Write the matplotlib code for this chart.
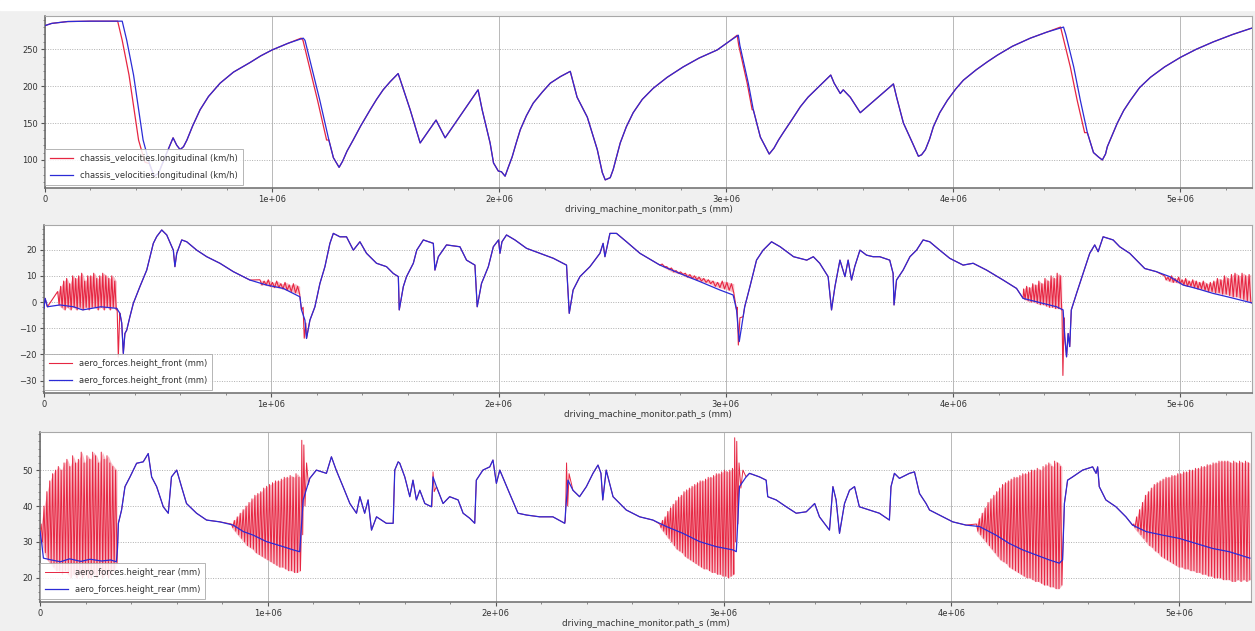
import numpy as np
import matplotlib
matplotlib.use('Agg')
import matplotlib.pyplot as plt
from matplotlib.ticker import MultipleLocator, FixedLocator, FixedFormatter
from matplotlib.patches import Rectangle

MM = 1e6  # path positions below are in 1e6 mm

# --- chassis_velocities.longitudinal (km/h) ---
vel_x = [0.0, 0.03, 0.1, 0.2, 0.34, 0.36, 0.39, 0.432, 0.46, 0.48, 0.50, 0.53, 0.564, 0.58, 0.595,
         0.61, 0.625, 0.65, 0.683, 0.72, 0.771, 0.83, 0.903, 0.95, 1.0, 1.07, 1.137, 1.145, 1.21,
         1.25, 1.27, 1.295, 1.31, 1.33, 1.357, 1.39, 1.432, 1.46, 1.489, 1.52, 1.555, 1.565, 1.608,
         1.652, 1.722, 1.762, 1.907, 1.925, 1.96, 1.975, 1.996, 2.01, 2.026, 2.04, 2.057, 2.075,
         2.093, 2.12, 2.15, 2.19, 2.225, 2.27, 2.313, 2.343, 2.388, 2.432, 2.454, 2.467, 2.489,
         2.502, 2.533, 2.56, 2.59, 2.63, 2.678, 2.74, 2.81, 2.88, 2.96, 3.01, 3.053, 3.06, 3.097,
         3.119, 3.15, 3.189, 3.21, 3.23, 3.251, 3.29, 3.326, 3.36, 3.40, 3.43, 3.46, 3.475, 3.502,
         3.515, 3.546, 3.59, 3.736, 3.75, 3.78, 3.82, 3.846, 3.86, 3.877, 3.895, 3.912, 3.94, 3.974,
         4.01, 4.044, 4.1, 4.15, 4.194, 4.26, 4.339, 4.41, 4.485, 4.495, 4.53, 4.559, 4.59, 4.617,
         4.639, 4.656, 4.67, 4.678, 4.70, 4.722, 4.75, 4.78, 4.82, 4.868, 4.93, 5.0, 5.07, 5.145,
         5.23, 5.308, 5.32]
vel_y = [282, 285, 287.5, 288, 288, 262, 215, 127, 95, 78, 82, 105, 130, 120, 114,
         118, 127, 146, 168, 186, 204, 219, 232, 241, 249, 258, 265, 262, 181,
         127, 103, 90, 98, 112, 127, 146, 168, 182, 195, 206, 217, 208, 168,
         123, 154, 130, 195, 168, 123, 96, 85, 84, 78, 90, 104, 123,
         141, 160, 177, 192, 204, 213, 220, 185, 158, 114, 83, 73, 76,
         87, 123, 145, 164, 182, 197, 212, 226, 238, 249, 260, 269, 255, 204,
         168, 131, 108, 116, 127, 137, 155, 172, 185, 197, 206, 215, 204, 190,
         195, 185, 164, 203, 185, 150, 123, 105, 107, 114, 128, 145, 164, 181,
         196, 208, 222, 233, 242, 254, 265, 273, 280, 270, 226, 181, 137, 110,
         104, 100, 108, 118, 134, 150, 167, 181, 198, 212, 226, 239, 250, 260,
         270, 278, 279]

# the red run brakes a little earlier at each corner entry
vel_red_brake = [
    ([0.32, 0.34, 0.37, 0.412, 0.44], [288, 262, 215, 127, 97]),
    ([1.128, 1.136, 1.2, 1.24], [265, 262, 181, 127]),
    ([3.048, 3.055, 3.092, 3.114], [269, 255, 204, 168]),
    ([4.472, 4.48, 4.515, 4.545, 4.578], [280, 270, 226, 181, 137]),
]

# --- aero_forces.height_front (mm) ---
front_x = [0.0, 0.005, 0.015, 0.07, 0.13, 0.17, 0.25, 0.32, 0.334, 0.342, 0.349, 0.356, 0.364, 0.378,
           0.393, 0.422, 0.452, 0.481, 0.496, 0.518, 0.54, 0.569, 0.576, 0.584, 0.606, 0.628, 0.672,
           0.716, 0.774, 0.833, 0.906, 0.979, 1.053, 1.126, 1.133, 1.148, 1.155, 1.17, 1.192, 1.214,
           1.236, 1.258, 1.273, 1.302, 1.331, 1.361, 1.39, 1.419, 1.463, 1.507, 1.537, 1.559, 1.563,
           1.581, 1.595, 1.625, 1.64, 1.669, 1.713, 1.72, 1.735, 1.771, 1.83, 1.859, 1.896, 1.906,
           1.925, 1.955, 1.977, 2.0, 2.006, 2.015, 2.035, 2.072, 2.123, 2.182, 2.241, 2.299, 2.311,
           2.328, 2.358, 2.402, 2.446, 2.46, 2.468, 2.49, 2.519, 2.563, 2.622, 2.71, 2.798, 2.886,
           2.974, 3.032, 3.047, 3.059, 3.076, 3.083, 3.106, 3.135, 3.164, 3.201, 3.239, 3.298, 3.356,
           3.385, 3.413, 3.45, 3.465, 3.48, 3.502, 3.524, 3.538, 3.553, 3.567, 3.59, 3.619, 3.648,
           3.677, 3.721, 3.736, 3.74, 3.751, 3.78, 3.81, 3.839, 3.868, 3.897, 3.941, 3.985, 4.044,
           4.088, 4.147, 4.22, 4.279, 4.308, 4.367, 4.455, 4.484, 4.491, 4.499, 4.506, 4.513, 4.52,
           4.543, 4.572, 4.601, 4.623, 4.638, 4.66, 4.704, 4.733, 4.777, 4.843, 4.894, 4.953, 5.012,
           5.07, 5.144, 5.217, 5.313]
front_y = [-2.4, 1.4, -1.8, -1.1, -1.8, -3.0, -1.8, -2.4, -4.3, -8.0, -19.6, -12.0, -10.7, -5.6,
           -0.5, 5.9, 12.2, 22.4, 25.0, 27.5, 25.6, 19.8, 13.5, 18.6, 23.7, 23.0, 19.8,
           17.3, 14.8, 11.6, 8.4, 6.5, 5.2, 2.0, -3.0, -6.9, -13.9, -6.9, -1.8, 7.1,
           13.5, 22.4, 26.2, 24.9, 24.9, 19.8, 23.0, 18.6, 14.8, 13.5, 10.9, 9.7, -3.0,
           5.9, 9.7, 14.8, 19.8, 23.7, 22.4, 12.2, 17.3, 21.8, 21.1, 16.0, 14.1, -1.8,
           7.1, 13.5, 21.1, 23.7, 18.6, 23.0, 25.6, 23.7, 20.5, 18.6, 16.7, 14.1, -4.3,
           4.6, 9.7, 13.5, 18.6, 22.4, 17.3, 26.2, 26.2, 23.0, 18.6, 14.1, 10.9, 7.8,
           4.6, 2.7, -3.0, -15.1, -5.6, -1.8, 5.9, 16.0, 19.8, 23.0, 21.1, 17.3, 16.0,
           17.3, 14.8, 9.7, -3.0, 5.9, 16.0, 9.7, 16.0, 8.4, 13.5, 19.8, 17.9, 17.3,
           17.3, 16.0, 10.9, -1.1, 8.4, 12.2, 17.3, 19.8, 23.7, 23.0, 19.8, 16.7, 14.1,
           14.8, 12.2, 8.4, 5.2, 1.4, 0.1, -1.8, -3.0, -13.2, -20.9, -12.0, -17.0, -3.0,
           3.3, 10.9, 18.6, 21.8, 19.2, 24.9, 23.7, 21.1, 18.6, 12.8, 11.6, 9.7, 6.5,
           5.2, 3.3, 1.8, -0.3]

# oscillating stretches of the red trace: (start, end, peaks, troughs)
front_red_osc = [
    (0.06, 0.318,
     [4, 6, 8, 9, 7, 10, 9, 10, 11, 8, 10, 10, 11, 9, 10, 11, 10, 9, 10, 8],
     [-1, -2, -3, -2, -3, -2, -3, -2, -3, -2, -3, -2, -2, -3, -2, -3, -2, -3, -2, -3]),
    (0.95, 1.125,
     [8.5, 8, 8.5, 7.5, 8, 7, 7.5, 6.5, 7, 6],
     [6.5, 6.5, 6, 5.5, 5.5, 5, 4.5, 4, 3.5, 3]),
    (2.72, 3.035,
     [14.5, 13.5, 13, 12, 11.5, 11, 10.5, 10, 9.5, 9, 8.5, 8, 7.5, 8, 7.5, 7],
     [13.5, 12.5, 11.5, 11, 10.5, 9.5, 9, 8.5, 8, 7.5, 7, 6, 5.5, 5, 4.5, 3.5]),
    (4.31, 4.478,
     [5, 6, 5.5, 7, 6.5, 8, 7, 9, 8, 10, 9, 11, 10],
     [1, 0.5, 0, 0, -0.5, -1, -1, -1.5, -2, -2, -2.5, -2.5, -3]),
    (4.93, 5.31,
     [10, 9.5, 10, 9, 9.5, 8.5, 9, 8, 8.5, 8, 7.5, 8, 7, 7.5, 8, 9, 8.5, 10, 9, 10.5, 11, 10, 11, 10, 10.5],
     [8.5, 8, 7.5, 7.5, 7, 6.5, 6, 6, 5.5, 5, 5, 4.5, 4, 4, 3.5, 3.5, 3, 3, 2.5, 2, 2, 1.5, 1, 0.5, 0]),
]
front_red_spikes = [
    ([0.322, 0.327, 0.333], [-3, -21, -5]),
    ([1.14, 1.145, 1.152], [-2, -13.8, -8]),
    ([3.05, 3.055, 3.062], [-2, -16.4, -6]),
    ([4.479, 4.483, 4.488], [-3, -28, -6]),
]

# --- aero_forces.height_rear (mm) ---
rear_x = [0.0, 0.007, 0.015, 0.05, 0.09, 0.13, 0.18, 0.22, 0.27, 0.31, 0.335, 0.34, 0.344, 0.358,
          0.373, 0.395, 0.424, 0.453, 0.475, 0.49, 0.512, 0.541, 0.563, 0.577, 0.6, 0.621, 0.643,
          0.687, 0.731, 0.789, 0.848, 0.892, 0.936, 0.994, 1.067, 1.111, 1.14, 1.155, 1.184, 1.213,
          1.257, 1.279, 1.3, 1.33, 1.36, 1.389, 1.404, 1.425, 1.44, 1.455, 1.477, 1.52, 1.55, 1.557,
          1.572, 1.579, 1.601, 1.623, 1.637, 1.652, 1.667, 1.689, 1.718, 1.725, 1.74, 1.769, 1.798,
          1.835, 1.857, 1.886, 1.908, 1.915, 1.944, 1.974, 1.988, 2.003, 2.018, 2.061, 2.098, 2.135,
          2.193, 2.251, 2.303, 2.317, 2.339, 2.368, 2.398, 2.427, 2.449, 2.462, 2.47, 2.485, 2.515,
          2.573, 2.632, 2.69, 2.749, 2.822, 2.895, 2.968, 3.041, 3.056, 3.07, 3.099, 3.114, 3.158,
          3.187, 3.194, 3.231, 3.275, 3.319, 3.363, 3.4, 3.421, 3.465, 3.48, 3.494, 3.509, 3.531,
          3.553, 3.575, 3.596, 3.64, 3.684, 3.728, 3.735, 3.75, 3.772, 3.816, 3.838, 3.86, 3.889,
          3.904, 3.947, 4.006, 4.064, 4.123, 4.196, 4.254, 4.313, 4.371, 4.43, 4.474, 4.488, 4.496,
          4.51, 4.532, 4.576, 4.62, 4.635, 4.642, 4.649, 4.678, 4.722, 4.766, 4.795, 4.854, 4.927,
          5.0, 5.073, 5.146, 5.219, 5.31]
rear_y = [33, 30, 25.5, 25, 24.5, 25.3, 24.6, 25.2, 24.7, 25, 24.5, 28, 35.2, 38.9,
          45.4, 48.1, 51.9, 52.3, 54.6, 48.1, 45.4, 39.8, 38, 48.1, 50, 45.4, 40.7,
          38, 36.1, 35.6, 34.7, 32.9, 31.9, 30.1, 28.7, 27.8, 27.3, 41.7, 47.7, 50,
          49.1, 53.7, 50, 45.4, 40.7, 38, 42.6, 38, 41.7, 33.3, 37, 35.2, 35.2, 50,
          52.3, 51.9, 48.1, 42.6, 47.2, 41.7, 44.4, 40.7, 39.8, 48.1, 45.4, 40.7, 42.6,
          41.7, 38, 36.6, 35.2, 47.2, 50, 50.9, 52.8, 46.3, 50, 43.5, 38, 37.5,
          37, 37, 35.2, 47.2, 44.4, 42.6, 45.4, 49.1, 51.4, 49.1, 41.7, 50, 42.6,
          38.9, 37, 36.1, 34.3, 32.4, 30.1, 28.7, 27.8, 27.3, 45.4, 48.1, 49.1, 48.1,
          47.2, 42.6, 41.7, 39.8, 38, 38.4, 40.7, 37, 33.3, 45.4, 41.7, 32.4, 40.7,
          44.4, 45.4, 39.8, 38.9, 38, 36.1, 45.4, 49.1, 47.7, 49.1, 49.5, 43.5, 40.7,
          38.9, 37.5, 35.6, 34.7, 34.3, 31.9, 29.6, 27.8, 26.4, 25, 24.1, 25, 40.7,
          47.2, 48.1, 50, 50.9, 49.1, 50.9, 45.4, 41.7, 39.8, 37, 34.7, 32.9, 31.9,
          31, 29.6, 28.2, 27.3, 25.5]

rear_red_osc = [
    (0.005, 0.338,
     [35, 40, 44, 47, 49, 50, 51, 50, 52, 53, 51, 54, 52, 53, 55, 52, 54, 53, 55, 54, 52, 55, 53, 54, 52, 51, 50],
     [30, 27, 25, 24, 23, 22, 22, 21, 22, 21, 20, 21, 20, 21, 20, 21, 20, 20, 21, 20, 21, 20, 21, 20, 21, 22, 24]),
    (0.84, 1.143,
     [35, 36, 37, 38, 39, 40, 41, 42, 43, 43.5, 44, 45, 45.5, 46, 46.5, 47, 47, 47.5, 48, 48, 48.5, 48, 49, 48],
     [34, 33, 32, 31, 30, 29, 28.5, 28, 27, 26.5, 26, 25.5, 25, 24.5, 24, 23.5, 23, 23, 22.5, 22, 22, 21.5, 21.5, 22]),
    (2.72, 3.045,
     [35, 36, 37, 38.5, 39.5, 40.5, 41.5, 42.5, 43, 44, 44.5, 45, 45.5, 46, 46.5, 47, 47, 47.5, 48, 48,
      48.5, 49, 49, 49.5, 50, 49.5, 50, 50.5],
     [34, 33, 32, 31, 30, 29, 28, 27.5, 27, 26, 25.5, 25, 24.5, 24, 23.5, 23, 22.5, 22.5, 22, 21.5,
      21.5, 21, 21, 20.5, 20.5, 20, 20.5, 21]),
    (4.11, 4.485,
     [35, 36.5, 38, 39.5, 41, 42, 43, 44, 45, 46, 46.5, 47, 47.5, 48, 48, 48.5, 49, 49, 49.5, 50,
      50, 50.5, 50, 51, 51.5, 52, 51, 52.5, 52, 51],
     [33, 32, 31, 30, 29, 28, 27, 26, 25, 24.5, 24, 23, 22.5, 22, 21.5, 21, 20.5, 20, 20, 19.5,
      19, 19, 18.5, 18, 18, 17.5, 17.5, 17, 17, 18]),
    (4.80, 5.31,
     [35, 37, 39, 41, 43, 44, 45, 46, 46.5, 47, 47.5, 48, 48, 48.5, 48.5, 49, 49, 49.5, 49.5, 50,
      50, 50.5, 50.5, 51, 51, 51.5, 51.5, 52, 52, 52.5, 52.5, 52.5, 52.5, 52, 52.5, 52, 52.5, 52, 52.5, 52],
     [34, 33, 32, 31, 30, 29, 28.5, 27.5, 27, 26, 25.5, 25, 24.5, 24, 23.5, 23, 23, 22.5, 22.5, 22,
      22, 21.5, 21.5, 21, 21, 20.5, 20.5, 20, 20, 20, 19.5, 19.5, 19.5, 19, 19, 19.5, 19, 19.5, 19, 19.5]),
]
rear_red_spikes = [
    ([1.146, 1.149, 1.153, 1.158, 1.163, 1.17, 1.178], [30, 58.3, 32, 57, 40, 52, 46]),
    ([1.72, 1.725, 1.73], [40, 49.5, 44]),
    ([2.306, 2.311, 2.316, 2.322], [36, 52, 40, 49]),
    ([3.046, 3.049, 3.053, 3.058, 3.063, 3.068, 3.076, 3.085], [28, 59, 30, 58, 35, 52, 45, 50]),
]

RED = '#e62642'
PINK = '#f6a0ae'
BLUE = '#2b2bd6'


def red_trace(bx, by, osc, spikes):
    x = np.asarray(bx, dtype=float)
    y = np.asarray(by, dtype=float)
    for x0, x1, peaks, troughs in osc:
        keep = (x < x0) | (x > x1)
        zx = np.linspace(x0, x1, 2 * len(peaks))
        zy = np.column_stack([peaks, troughs]).ravel()
        x = np.concatenate([x[keep], zx])
        y = np.concatenate([y[keep], zy])
    for sx, sy in spikes:
        keep = (x < min(sx)) | (x > max(sx))
        x = np.concatenate([x[keep], sx])
        y = np.concatenate([y[keep], sy])
    order = np.argsort(x, kind='stable')
    return x[order], y[order]


def shade(ax, osc):
    # faint band behind the densely packed oscillation strokes
    for x0, x1, peaks, troughs in osc:
        px = np.linspace(x0, x1, len(peaks))
        ax.fill_between(px * MM, peaks, troughs, color=PINK, lw=0, alpha=0.7, zorder=1.5)


def style(ax, ylim, yticks, yminor):
    ax.set_facecolor('white')
    ax.set_xlim(0, 5.315 * MM)
    ax.set_ylim(*ylim)
    ax.xaxis.set_major_locator(FixedLocator([0, 1e6, 2e6, 3e6, 4e6, 5e6]))
    ax.xaxis.set_major_formatter(FixedFormatter(['0', '1e+06', '2e+06', '3e+06', '4e+06', '5e+06']))
    ax.xaxis.set_minor_locator(MultipleLocator(2e5))
    ax.set_yticks(yticks)
    ax.yaxis.set_minor_locator(MultipleLocator(yminor))
    ax.grid(axis='x', which='major', color='#b8b8b8', lw=0.7)
    ax.grid(axis='y', which='major', color='#b0b0b0', lw=0.7, ls=(0, (1, 1.5)))
    ax.set_axisbelow(True)
    ax.tick_params(labelsize=6, length=3, width=0.8, color='#555555', labelcolor='#333333', pad=2)
    ax.tick_params(which='minor', length=1.5, width=0.6, color='#777777')
    for side in ('top', 'right'):
        ax.spines[side].set_color('#a8a8a8')
        ax.spines[side].set_linewidth(0.8)
    for side in ('left', 'bottom'):
        ax.spines[side].set_color('#6a6a6a')
        ax.spines[side].set_linewidth(1.1)
    ax.set_xlabel('driving_machine_monitor.path_s (mm)', fontsize=6.3, color='#333333', labelpad=1)


def legend(ax, label):
    leg = ax.legend(ax.lines[-2:], [label, label], loc='lower left', bbox_to_anchor=(0.0, 0.02),
                    borderaxespad=0, fontsize=6, handlelength=2.8, labelspacing=0.9,
                    borderpad=0.6, fancybox=False, framealpha=0.85, edgecolor='#a8a8a8')
    leg.get_frame().set_linewidth(0.7)
    for t in leg.get_texts():
        t.set_color('#333333')


fig = plt.figure(figsize=(12.55, 6.31), dpi=100, facecolor='#f0f0f0')
fig.add_artist(Rectangle((0, 1 - 10 / 631), 1, 10 / 631, transform=fig.transFigure,
                         color='white', zorder=0))

ax1 = fig.add_axes([45 / 1255, 1 - 188 / 631, 1207 / 1255, 172 / 631])
ax2 = fig.add_axes([44 / 1255, 1 - 393 / 631, 1208 / 1255, 168 / 631])
ax3 = fig.add_axes([40 / 1255, 1 - 602 / 631, 1211 / 1255, 170 / 631])

# velocity
rx, ry = red_trace(vel_x, vel_y, [], vel_red_brake)
ax1.plot(rx * MM, ry, color=RED, lw=0.9, zorder=2)
ax1.plot(np.array(vel_x) * MM, vel_y, color=BLUE, lw=0.9, zorder=3)
style(ax1, (62, 295), [100, 150, 200, 250], 10)
legend(ax1, 'chassis_velocities.longitudinal (km/h)')

# front ride height
shade(ax2, front_red_osc)
rx, ry = red_trace(front_x, front_y, front_red_osc, front_red_spikes)
ax2.plot(rx * MM, ry, color=RED, lw=0.8, zorder=2)
ax2.plot(np.array(front_x) * MM, front_y, color=BLUE, lw=0.9, zorder=3)
style(ax2, (-34.7, 29.4), [-30, -20, -10, 0, 10, 20], 2)
legend(ax2, 'aero_forces.height_front (mm)')

# rear ride height
shade(ax3, rear_red_osc)
rx, ry = red_trace(rear_x, rear_y, rear_red_osc, rear_red_spikes)
ax3.plot(rx * MM, ry, color=RED, lw=0.7, zorder=2)
ax3.plot(np.array(rear_x) * MM, rear_y, color=BLUE, lw=0.9, zorder=3)
style(ax3, (13.3, 60.6), [20, 30, 40, 50], 2)
legend(ax3, 'aero_forces.height_rear (mm)')

fig.savefig('out.png', dpi=100, facecolor=fig.get_facecolor())
